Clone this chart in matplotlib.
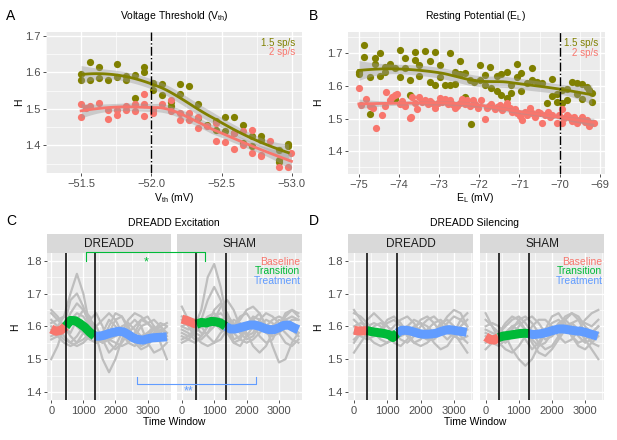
import numpy as np
import matplotlib

matplotlib.use("Agg")

from matplotlib import pyplot as plt  # noqa: E402
from matplotlib.lines import Line2D  # noqa: E402

plt.rcParams["font.family"] = ["Liberation Sans", "DejaVu Sans"]
plt.rcParams["mathtext.default"] = "regular"

OLIVE = "#808000"
SALMON = "#F8766D"
GREEN = "#00BA38"
BLUE = "#619CFF"
GREY = "#BEBEBE"

# ---- panel A: voltage threshold ----
a_fast_x = [-51.5, -51.5, -51.564, -51.564, -51.629, -51.629, -51.693, -51.758, -51.758,
            -51.822, -51.822, -51.882, -51.882, -51.946, -51.946, -52.011, -52.011, -52.075,
            -52.075, -52.139, -52.139, -52.204, -52.204, -52.268, -52.333, -52.333, -52.397,
            -52.461, -52.461, -52.526, -52.526, -52.590, -52.590, -52.654, -52.654, -52.719,
            -52.719, -52.783, -52.783, -52.912, -52.912, -52.912, -52.976, -52.976]
a_fast_y = [1.596, 1.580, 1.629, 1.578, 1.616, 1.584, 1.580, 1.622, 1.587, 1.589, 1.578, 1.594,
            1.529, 1.615, 1.602, 1.571, 1.551, 1.569, 1.539, 1.507, 1.520, 1.567, 1.541, 1.563,
            1.514, 1.474, 1.456, 1.466, 1.443, 1.477, 1.438, 1.479, 1.433, 1.455, 1.406, 1.426,
            1.397, 1.426, 1.415, 1.388, 1.360, 1.353, 1.404, 1.397]
a_slow_x = [-51.5, -51.5, -51.534, -51.564, -51.629, -51.693, -51.693, -51.758, -51.758, -51.822,
            -51.822, -51.882, -51.882, -51.946, -51.946, -51.946, -52.011, -52.011, -52.075,
            -52.139, -52.139, -52.204, -52.204, -52.268, -52.268, -52.333, -52.333, -52.397,
            -52.461, -52.461, -52.526, -52.590, -52.590, -52.654, -52.654, -52.719, -52.719,
            -52.783, -52.783, -52.847, -52.912, -52.976, -52.998]
a_slow_y = [1.514, 1.479, 1.502, 1.509, 1.516, 1.498, 1.472, 1.498, 1.484, 1.509, 1.498, 1.514,
            1.494, 1.540, 1.481, 1.514, 1.498, 1.490, 1.513, 1.525, 1.494, 1.469, 1.489, 1.490,
            1.469, 1.447, 1.479, 1.452, 1.411, 1.461, 1.408, 1.433, 1.391, 1.438, 1.402, 1.442,
            1.380, 1.374, 1.371, 1.411, 1.340, 1.340, 1.380]
a_marker = -52.0

# ---- panel B: resting potential ----
b_fast_x = [-75, -75, -74.86, -74.86, -74.73, -74.73, -74.61, -74.61, -74.48, -74.48, -74.36,
            -74.36, -74.23, -74.11, -74.11, -73.98, -73.98, -73.86, -73.86, -73.73, -73.73,
            -73.61, -73.61, -73.49, -73.49, -73.36, -73.24, -73.24, -73.11, -73.11, -72.99,
            -72.99, -72.86, -72.74, -72.74, -72.61, -72.61, -72.49, -72.49, -72.36, -72.36,
            -72.24, -72.20, -72.12, -71.99, -71.99, -71.86, -71.86, -71.74, -71.70, -71.57,
            -71.57, -71.45, -71.45, -71.32, -71.32, -71.20, -71.20, -71.07, -71.07, -70.95,
            -70.95, -70.82, -70.70, -70.70, -70.57, -70.45, -70.32, -70.20, -70.20, -70.07,
            -70.07, -69.95, -69.95, -69.82, -69.82, -69.70, -69.57, -69.57, -69.45, -69.45,
            -69.32, -69.28, -69.20, -69.20]
b_fast_y = [1.644, 1.637, 1.726, 1.688, 1.627, 1.514, 1.685, 1.669, 1.700, 1.631, 1.644, 1.659,
            1.667, 1.654, 1.559, 1.710, 1.629, 1.685, 1.654, 1.618, 1.572, 1.705, 1.680, 1.664,
            1.631, 1.708, 1.677, 1.613, 1.705, 1.603, 1.664, 1.627, 1.603, 1.700, 1.603, 1.606,
            1.644, 1.678, 1.637, 1.639, 1.567, 1.620, 1.484, 1.613, 1.664, 1.618, 1.634, 1.603,
            1.659, 1.593, 1.586, 1.631, 1.637, 1.572, 1.644, 1.562, 1.603, 1.580, 1.667, 1.627,
            1.641, 1.586, 1.610, 1.654, 1.618, 1.613, 1.610, 1.547, 1.623, 1.569, 1.575, 1.552,
            1.588, 1.549, 1.590, 1.557, 1.613, 1.610, 1.575, 1.606, 1.559, 1.596, 1.588, 1.578,
            1.552]
b_slow_x = [-75, -74.94, -74.82, -74.73, -74.65, -74.57, -74.43, -74.36, -74.32, -74.23, -74.18,
            -74.11, -74.04, -73.98, -73.93, -73.86, -73.73, -73.69, -73.68, -73.61, -73.54,
            -73.49, -73.43, -73.36, -73.29, -73.24, -73.18, -73.11, -73.04, -72.99, -72.93,
            -72.86, -72.79, -72.74, -72.68, -72.61, -72.55, -72.49, -72.42, -72.36, -72.30,
            -72.24, -72.15, -72.10, -72.03, -71.95, -71.86, -71.82, -71.76, -71.70, -71.61,
            -71.55, -71.49, -71.43, -71.36, -71.31, -71.24, -71.18, -71.11, -71.05, -70.99,
            -70.93, -70.87, -70.80, -70.74, -70.68, -70.62, -70.55, -70.49, -70.43, -70.37,
            -70.30, -70.24, -70.18, -70.07, -70.02, -69.95, -69.93, -69.88, -69.82, -69.76,
            -69.70, -69.63, -69.57, -69.51, -69.45, -69.38, -69.32, -69.28, -69.21, -69.15]
b_slow_y = [1.593, 1.542, 1.559, 1.539, 1.532, 1.471, 1.511, 1.539, 1.583, 1.557, 1.567, 1.572,
            1.576, 1.545, 1.555, 1.539, 1.501, 1.504, 1.565, 1.547, 1.529, 1.565, 1.552, 1.557,
            1.545, 1.555, 1.547, 1.532, 1.549, 1.562, 1.552, 1.559, 1.545, 1.557, 1.545, 1.532,
            1.539, 1.549, 1.559, 1.545, 1.557, 1.539, 1.557, 1.545, 1.532, 1.557, 1.498, 1.532,
            1.539, 1.545, 1.529, 1.537, 1.542, 1.527, 1.535, 1.549, 1.532, 1.521, 1.529, 1.516,
            1.508, 1.496, 1.519, 1.511, 1.532, 1.516, 1.506, 1.521, 1.516, 1.486, 1.511, 1.519,
            1.506, 1.511, 1.486, 1.511, 1.529, 1.488, 1.501, 1.511, 1.504, 1.494, 1.506, 1.488,
            1.496, 1.504, 1.491, 1.496, 1.476, 1.488, 1.488]
b_marker = -70.0

# ---- panel C: DREADD excitation (gray = individual animals, thick = mean) ----
c_gray_t = [0, 200, 400, 600, 800, 1000, 1200, 1400, 1600, 1800, 2000, 2200, 2400, 2600, 2800,
            3000, 3200, 3400, 3600]
c_dreadd_gray = [
    [1.58, 1.60, 1.63, 1.70, 1.76, 1.70, 1.60, 1.55, 1.58, 1.62, 1.60, 1.58, 1.56, 1.57, 1.60, 1.61, 1.59, 1.57, 1.56],
    [1.50, 1.54, 1.60, 1.68, 1.70, 1.66, 1.60, 1.56, 1.55, 1.58, 1.62, 1.63, 1.60, 1.56, 1.54, 1.55, 1.58, 1.60, 1.58],
    [1.64, 1.62, 1.60, 1.58, 1.62, 1.65, 1.63, 1.57, 1.50, 1.46, 1.50, 1.56, 1.60, 1.62, 1.60, 1.55, 1.52, 1.53, 1.55],
    [1.60, 1.58, 1.56, 1.55, 1.57, 1.60, 1.62, 1.64, 1.60, 1.55, 1.53, 1.55, 1.58, 1.60, 1.62, 1.61, 1.59, 1.58, 1.60],
    [1.56, 1.57, 1.59, 1.62, 1.64, 1.63, 1.60, 1.58, 1.57, 1.56, 1.55, 1.54, 1.55, 1.58, 1.62, 1.63, 1.60, 1.55, 1.50],
    [1.65, 1.63, 1.60, 1.57, 1.55, 1.56, 1.58, 1.60, 1.62, 1.64, 1.62, 1.58, 1.55, 1.54, 1.56, 1.58, 1.59, 1.60, 1.61],
    [1.62, 1.60, 1.57, 1.55, 1.54, 1.55, 1.57, 1.58, 1.57, 1.56, 1.57, 1.58, 1.57, 1.55, 1.53, 1.54, 1.57, 1.59, 1.58],
    [1.57, 1.58, 1.60, 1.64, 1.67, 1.65, 1.61, 1.57, 1.55, 1.56, 1.58, 1.60, 1.61, 1.59, 1.57, 1.58, 1.60, 1.58, 1.56],
    [1.59, 1.57, 1.55, 1.54, 1.55, 1.58, 1.62, 1.60, 1.56, 1.52, 1.54, 1.58, 1.62, 1.64, 1.63, 1.61, 1.62, 1.60, 1.57],
    [1.61, 1.62, 1.63, 1.62, 1.60, 1.58, 1.56, 1.55, 1.56, 1.60, 1.64, 1.63, 1.59, 1.56, 1.55, 1.57, 1.59, 1.61, 1.60],
]
c_sham_gray = [
    [1.60, 1.59, 1.60, 1.65, 1.75, 1.79, 1.72, 1.62, 1.56, 1.57, 1.60, 1.62, 1.60, 1.58, 1.57, 1.58, 1.60, 1.61, 1.60],
    [1.58, 1.57, 1.58, 1.62, 1.68, 1.72, 1.68, 1.60, 1.55, 1.56, 1.60, 1.63, 1.62, 1.59, 1.58, 1.60, 1.62, 1.63, 1.62],
    [1.66, 1.62, 1.58, 1.57, 1.60, 1.65, 1.67, 1.64, 1.60, 1.58, 1.59, 1.62, 1.64, 1.60, 1.54, 1.49, 1.50, 1.55, 1.58],
    [1.57, 1.56, 1.55, 1.57, 1.60, 1.63, 1.64, 1.62, 1.60, 1.62, 1.65, 1.66, 1.64, 1.60, 1.58, 1.60, 1.63, 1.65, 1.64],
    [1.62, 1.60, 1.57, 1.55, 1.54, 1.55, 1.58, 1.60, 1.58, 1.56, 1.55, 1.56, 1.58, 1.60, 1.62, 1.63, 1.62, 1.60, 1.58],
    [1.55, 1.56, 1.58, 1.60, 1.62, 1.61, 1.59, 1.58, 1.60, 1.63, 1.64, 1.61, 1.57, 1.55, 1.56, 1.60, 1.64, 1.65, 1.63],
    [1.60, 1.61, 1.62, 1.60, 1.57, 1.55, 1.56, 1.59, 1.62, 1.61, 1.58, 1.54, 1.52, 1.54, 1.58, 1.60, 1.58, 1.56, 1.55],
    [1.63, 1.62, 1.60, 1.58, 1.58, 1.60, 1.62, 1.63, 1.61, 1.58, 1.56, 1.57, 1.60, 1.62, 1.61, 1.58, 1.55, 1.54, 1.56],
    [1.56, 1.57, 1.59, 1.61, 1.63, 1.64, 1.62, 1.58, 1.55, 1.54, 1.57, 1.60, 1.61, 1.60, 1.60, 1.62, 1.61, 1.59, 1.57],
    [1.59, 1.58, 1.56, 1.56, 1.58, 1.62, 1.66, 1.68, 1.65, 1.60, 1.57, 1.58, 1.62, 1.64, 1.63, 1.61, 1.60, 1.62, 1.62],
]
c_mean_t = [0, 150, 300, 450, 600, 750, 900, 1050, 1200, 1350, 1500, 1650, 1800, 1950, 2100,
            2250, 2400, 2550, 2700, 2850, 3000, 3150, 3300, 3450, 3600]
c_dreadd_mean = [1.592, 1.585, 1.588, 1.600, 1.618, 1.617, 1.608, 1.597, 1.582, 1.570, 1.570,
                 1.573, 1.578, 1.582, 1.585, 1.583, 1.575, 1.565, 1.560, 1.558, 1.562, 1.565,
                 1.566, 1.567, 1.568]
c_sham_mean = [1.622, 1.618, 1.612, 1.606, 1.612, 1.610, 1.615, 1.614, 1.610, 1.600, 1.592,
               1.592, 1.596, 1.600, 1.604, 1.604, 1.600, 1.594, 1.590, 1.590, 1.596, 1.603,
               1.604, 1.596, 1.590]
c_bounds = [450, 1350]

# ---- panel D: DREADD silencing ----
d_gray_t = [0, 200, 400, 600, 800, 1000, 1200, 1400, 1600, 1800, 2000, 2200, 2400, 2600, 2800,
            3000, 3200, 3400]
d_dreadd_gray = [
    [1.55, 1.58, 1.62, 1.64, 1.62, 1.60, 1.58, 1.57, 1.58, 1.60, 1.61, 1.60, 1.58, 1.60, 1.63, 1.65, 1.64, 1.60],
    [1.52, 1.55, 1.58, 1.60, 1.61, 1.60, 1.58, 1.56, 1.55, 1.57, 1.60, 1.62, 1.63, 1.61, 1.58, 1.57, 1.58, 1.59],
    [1.64, 1.63, 1.61, 1.58, 1.56, 1.55, 1.56, 1.58, 1.60, 1.62, 1.61, 1.58, 1.55, 1.53, 1.54, 1.57, 1.60, 1.62],
    [1.60, 1.61, 1.60, 1.58, 1.57, 1.58, 1.60, 1.62, 1.63, 1.61, 1.58, 1.56, 1.56, 1.58, 1.61, 1.63, 1.62, 1.60],
    [1.58, 1.57, 1.56, 1.57, 1.59, 1.62, 1.63, 1.61, 1.58, 1.55, 1.54, 1.55, 1.57, 1.59, 1.60, 1.58, 1.55, 1.52],
    [1.62, 1.60, 1.57, 1.55, 1.54, 1.55, 1.57, 1.59, 1.60, 1.59, 1.57, 1.56, 1.58, 1.61, 1.62, 1.60, 1.57, 1.55],
    [1.56, 1.58, 1.60, 1.61, 1.60, 1.58, 1.55, 1.54, 1.56, 1.59, 1.62, 1.63, 1.61, 1.58, 1.56, 1.58, 1.62, 1.64],
    [1.65, 1.62, 1.59, 1.57, 1.58, 1.61, 1.62, 1.60, 1.57, 1.55, 1.56, 1.59, 1.61, 1.62, 1.60, 1.57, 1.56, 1.57],
]
d_sham_gray = [
    [1.64, 1.60, 1.56, 1.55, 1.57, 1.60, 1.62, 1.63, 1.61, 1.58, 1.57, 1.59, 1.62, 1.64, 1.63, 1.60, 1.58, 1.60],
    [1.58, 1.57, 1.55, 1.53, 1.52, 1.54, 1.57, 1.60, 1.62, 1.62, 1.60, 1.57, 1.55, 1.56, 1.59, 1.62, 1.64, 1.65],
    [1.55, 1.56, 1.58, 1.60, 1.62, 1.63, 1.61, 1.58, 1.55, 1.53, 1.54, 1.57, 1.60, 1.61, 1.59, 1.56, 1.53, 1.50],
    [1.60, 1.61, 1.60, 1.57, 1.53, 1.50, 1.48, 1.50, 1.54, 1.58, 1.61, 1.62, 1.60, 1.57, 1.55, 1.56, 1.58, 1.60],
    [1.57, 1.55, 1.54, 1.56, 1.59, 1.62, 1.63, 1.61, 1.58, 1.56, 1.57, 1.60, 1.63, 1.64, 1.62, 1.58, 1.55, 1.54],
    [1.62, 1.60, 1.58, 1.58, 1.60, 1.61, 1.59, 1.56, 1.54, 1.55, 1.58, 1.61, 1.62, 1.60, 1.57, 1.55, 1.56, 1.58],
    [1.53, 1.55, 1.58, 1.61, 1.63, 1.62, 1.59, 1.55, 1.52, 1.51, 1.53, 1.56, 1.59, 1.61, 1.62, 1.61, 1.60, 1.62],
    [1.59, 1.58, 1.57, 1.58, 1.60, 1.59, 1.56, 1.53, 1.55, 1.59, 1.63, 1.64, 1.61, 1.57, 1.54, 1.53, 1.55, 1.57],
]
d_mean_t = [0, 130, 260, 390, 520, 650, 780, 910, 1040, 1170, 1300, 1430, 1560, 1690, 1820,
            1950, 2080, 2210, 2340, 2470, 2600, 2730, 2860, 2990, 3120, 3250, 3380]
d_dreadd_mean = [1.588, 1.586, 1.586, 1.587, 1.584, 1.582, 1.580, 1.578, 1.575, 1.566, 1.580,
                 1.588, 1.588, 1.586, 1.582, 1.578, 1.576, 1.576, 1.577, 1.579, 1.584, 1.588,
                 1.590, 1.588, 1.586, 1.584, 1.582]
d_sham_mean = [1.568, 1.560, 1.558, 1.566, 1.570, 1.572, 1.574, 1.576, 1.578, 1.579, 1.578,
               1.575, 1.576, 1.578, 1.581, 1.585, 1.589, 1.592, 1.592, 1.590, 1.588, 1.586,
               1.585, 1.582, 1.578, 1.574, 1.570]
d_bounds = [390, 1300]

phase_names = ["Baseline", "Transition", "Treatment"]
rate_names = ["1.5 sp/s", "2 sp/s"]

W, H = 617, 440
fig = plt.figure(figsize=(W / 100, H / 100), dpi=100)


def px_axes(left, top, right, bottom):
    return fig.add_axes([left / W, 1 - bottom / H, (right - left) / W, (bottom - top) / H])


def px_text(x, y, s, **kw):
    kw.setdefault("ha", "center")
    kw.setdefault("va", "center")
    fig.text(x / W, 1 - y / H, s, **kw)


def gg_style(ax):
    ax.set_facecolor("#EBEBEB")
    for spine in ax.spines.values():
        spine.set_visible(False)
    ax.grid(True, which="major", color="white", linewidth=1.0)
    ax.grid(True, which="minor", color="white", linewidth=0.5)
    ax.set_axisbelow(True)
    ax.tick_params(which="major", length=2.5, width=0.6, color="#333333",
                   labelsize=8, labelcolor="#4D4D4D", pad=1.5)
    ax.tick_params(which="minor", length=0)


def loess(x, y, grid, span=0.75):
    # local quadratic fit with tricube weights; window width follows the
    # nearest-neighbour span of evenly spread x, which keeps the curve smooth
    x = np.asarray(x, dtype=float)
    y = np.asarray(y, dtype=float)
    n = len(x)
    lo, hi = x.min(), x.max()
    rng = hi - lo

    def row(x0):
        edge = min(x0 - lo, hi - x0)
        h = max(span * rng / 2, span * rng - edge)
        d = np.abs(x - x0)
        w = (1 - np.clip(d / h, 0, 1) ** 3) ** 3
        X = np.column_stack([np.ones(n), x - x0, (x - x0) ** 2])
        XtW = X.T * w
        return np.linalg.solve(XtW @ X, XtW)[0]

    L = np.array([row(xi) for xi in x])
    resid = y - L @ y
    M = np.eye(n) - L
    sigma = np.sqrt(np.sum(resid ** 2) / np.trace(M.T @ M))
    G = np.array([row(g) for g in grid])
    return G @ y, sigma * np.sqrt(np.sum(G ** 2, axis=1))


def scatter_panel(ax, series, marker_x, xlim, ylim):
    gg_style(ax)
    for xs, ys, col in series:
        ax.scatter(xs, ys, s=27, color=col, linewidths=0, zorder=2)
    for xs, ys, col in series:
        grid = np.linspace(min(xs), max(xs), 80)
        fit, se = loess(xs, ys, grid)
        ax.fill_between(grid, fit - 1.96 * se, fit + 1.96 * se, color="#999999",
                        alpha=0.4, linewidth=0, zorder=3)
        ax.plot(grid, fit, color=col, linewidth=2.0, zorder=4)
    ax.axvline(marker_x, color="black", linestyle="-.", linewidth=1.0, zorder=5)
    ax.set_xlim(*xlim)
    ax.set_ylim(*ylim)
    ax.text(0.975, 0.92, rate_names[0], color=OLIVE, fontsize=7, ha="right", va="center",
            transform=ax.transAxes)
    ax.text(0.975, 0.855, rate_names[1], color=SALMON, fontsize=7, ha="right", va="center",
            transform=ax.transAxes)


# panel A
axA = px_axes(46, 32, 302, 173)
scatter_panel(axA, [(a_fast_x, a_fast_y, OLIVE), (a_slow_x, a_slow_y, SALMON)],
              a_marker, (-51.427, -53.073), (1.324, 1.711))
axA.set_xticks([-51.5, -52.0, -52.5, -53.0])
axA.set_xticks([-51.25, -51.75, -52.25, -52.75], minor=True)
axA.set_yticks([1.4, 1.5, 1.6, 1.7])
axA.set_yticks([1.35, 1.45, 1.55, 1.65], minor=True)

# panel B
axB = px_axes(348, 32, 605, 174)
scatter_panel(axB, [(b_fast_x, b_fast_y, OLIVE), (b_slow_x, b_slow_y, SALMON)],
              b_marker, (-75.27, -68.87), (1.33, 1.766))
axB.set_xticks([-75, -74, -73, -72, -71, -70, -69])
axB.set_xticks([-74.5, -73.5, -72.5, -71.5, -70.5, -69.5], minor=True)
axB.set_yticks([1.4, 1.5, 1.6, 1.7])
axB.set_yticks([1.35, 1.45, 1.55, 1.65, 1.75], minor=True)


def time_panel(ax, gray, gray_t, mean_t, mean_v, bounds, xlim, show_y):
    gg_style(ax)
    for g in gray:
        ax.plot(gray_t, g, color=GREY, linewidth=1.6, solid_joinstyle="round", zorder=2)
    t = np.array(mean_t)
    v = np.array(mean_v)
    masks = [t <= bounds[0], (t >= bounds[0]) & (t <= bounds[1]), t >= bounds[1]]
    for mask, col in zip(masks, [SALMON, GREEN, BLUE]):
        ax.plot(t[mask], v[mask], color=col, linewidth=6.5, solid_capstyle="butt", zorder=3)
    for b in bounds:
        ax.axvline(b, color="black", linewidth=1.1, zorder=4)
    ax.set_xlim(*xlim)
    ax.set_ylim(1.3756, 1.8225)
    ax.set_xticks([0, 1000, 2000, 3000])
    ax.set_xticks([500, 1500, 2500, 3500], minor=True)
    ax.set_yticks([1.4, 1.5, 1.6, 1.7, 1.8])
    ax.set_yticks([1.45, 1.55, 1.65, 1.75], minor=True)
    if not show_y:
        ax.tick_params(axis="y", which="both", left=False, labelleft=False)


def strip(left, right, label):
    s = px_axes(left, 234.5, right, 253.3)
    s.set_facecolor("#D9D9D9")
    s.set_xticks([])
    s.set_yticks([])
    for spine in s.spines.values():
        spine.set_visible(False)
    s.text(0.5, 0.47, label, ha="center", va="center", fontsize=8.5, color="#1A1A1A",
           transform=s.transAxes)


def phase_legend(ax):
    for i, (name, col) in enumerate(zip(phase_names, [SALMON, GREEN, BLUE])):
        ax.text(0.985, 0.943 - 0.065 * i, name, color=col, fontsize=7.5, ha="right",
                va="center", transform=ax.transAxes)


# panel C
axCd = px_axes(46.7, 253.3, 170.7, 400)
axCs = px_axes(177.3, 253.3, 302.3, 400)
time_panel(axCd, c_dreadd_gray, c_gray_t, c_mean_t, c_dreadd_mean, c_bounds, (-140, 3720), True)
time_panel(axCs, c_sham_gray, c_gray_t, c_mean_t, c_sham_mean, c_bounds, (-140, 3720), False)
strip(46.7, 170.7, "DREADD")
strip(177.3, 302.3, "SHAM")
phase_legend(axCs)

# panel D
axDd = px_axes(348.3, 253.3, 473.3, 400)
axDs = px_axes(480, 253.3, 604.3, 400)
time_panel(axDd, d_dreadd_gray, d_gray_t, d_mean_t, d_dreadd_mean, d_bounds, (-170, 3580), True)
time_panel(axDs, d_sham_gray, d_gray_t, d_mean_t, d_sham_mean, d_bounds, (-170, 3580), False)
strip(348.3, 473.3, "DREADD")
strip(480, 604.3, "SHAM")
phase_legend(axDs)


# significance brackets spanning the two facets of panel C
def to_fig(ax, x, y):
    return fig.transFigure.inverted().transform(ax.transData.transform((x, y)))


def bracket(x_left, x_right, y_base, y_bar, col):
    pts = [to_fig(axCd, x_left, y_base), to_fig(axCd, x_left, y_bar),
           to_fig(axCs, x_right, y_bar), to_fig(axCs, x_right, y_base)]
    fig.add_artist(Line2D([p[0] for p in pts], [p[1] for p in pts], color=col,
                          linewidth=0.8, transform=fig.transFigure))


bracket(1087, 714, 1.800, 1.825, GREEN)
bracket(2680, 2298, 1.447, 1.423, BLUE)
axCd.text(2941, 1.795, "*", color=GREEN, fontsize=9, ha="center", va="center")
axCs.text(196, 1.403, "**", color=BLUE, fontsize=9, ha="center", va="center")

# titles, axis labels, panel letters
px_text(174, 16, "Voltage Threshold (V$_{th}$)", fontsize=7.5)
px_text(475, 16, "Resting Potential (E$_{L}$)", fontsize=7.5)
px_text(174, 223, "DREADD Excitation", fontsize=7.5)
px_text(475, 223, "DREADD Silencing", fontsize=7.5)
px_text(174, 198, "V$_{th}$ (mV)", fontsize=7.5)
px_text(475, 198, "E$_{L}$ (mV)", fontsize=7.5)
px_text(174, 422, "Time Window", fontsize=7.5)
px_text(475, 422, "Time Window", fontsize=7.5)
for x, y in [(19, 102), (318, 102), (15, 327), (318, 327)]:
    px_text(x, y, "H", fontsize=7.5, rotation=90)
for x, y, s in [(11, 16, "A"), (314, 16, "B"), (11, 221, "C"), (314, 221, "D")]:
    px_text(x, y, s, fontsize=10)

fig.savefig("out.png", dpi=100)
plt.close(fig)
